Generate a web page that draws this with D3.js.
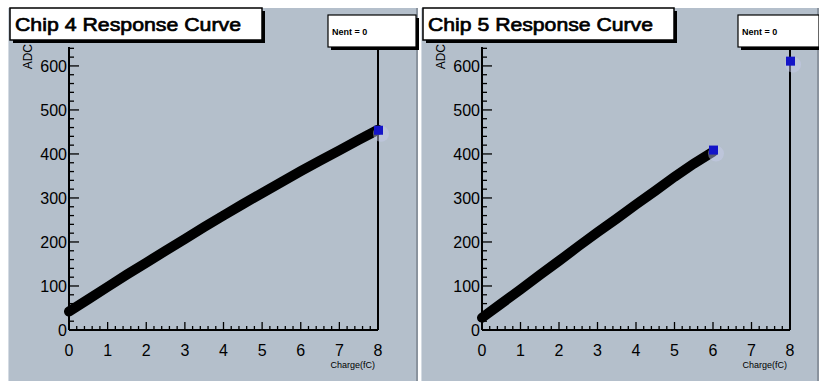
<!DOCTYPE html>
<html>
<head>
<meta charset="utf-8">
<script src="https://cdn.jsdelivr.net/npm/d3@7"></script>
<style>
  body { margin: 0; background: #fff; }
  svg { display: block; font-family: "Liberation Sans", Arial, sans-serif; }
</style>
</head>
<body>
<svg id="chart" width="819" height="383"></svg>
<script>
// data
const titles = ["Chip 4 Response Curve", "Chip 5 Response Curve"];
const statsText = "Nent = 0";
const xTicks = [0, 1, 2, 3, 4, 5, 6, 7, 8];
const yTicks = [0, 100, 200, 300, 400, 500, 600];
const chip4Charge = [0, 0.5, 1, 1.5, 2, 2.5, 3, 3.5, 4, 4.5, 5, 5.5, 6, 6.5, 7, 7.5, 8];
const chip4Adc = [42, 70, 98, 126, 153, 180, 207, 234, 260, 286, 311, 336, 361, 385, 408, 432, 455];
const chip5Charge = [0, 0.5, 1, 1.5, 2, 2.5, 3, 3.5, 4, 4.5, 5, 5.5, 6];
const chip5Adc = [28, 60, 92, 125, 157, 190, 222, 253, 285, 316, 348, 378, 405];
const chip4Last = [[8, 455]];
const chip5Last = [[6, 410], [8, 612]];

const bg = "#b4bfcb";
const svg = d3.select("#chart");

const pads = [
  { left: 8, right: 418, fx0: 69, fx1: 378, tx0: 10, tx1: 262, sx0: 328, sx1: 416,
    xs: chip4Charge, ys: chip4Adc, last: chip4Last, title: titles[0] },
  { left: 421, right: 819, fx0: 482, fx1: 790, tx0: 423, tx1: 674, sx0: 738, sx1: 819,
    xs: chip5Charge, ys: chip5Adc, last: chip5Last, title: titles[1] }
];

const fy0 = 330, fy1 = 47;

pads.forEach(p => {
  const g = svg.append("g");
  g.append("rect").attr("x", p.left).attr("y", 8)
    .attr("width", p.right - p.left).attr("height", 373).attr("fill", bg);
  // pad bevel
  g.append("line").attr("x1", p.right - 1).attr("x2", p.right - 1).attr("y1", 8).attr("y2", 381)
    .attr("stroke", "#8a939e").attr("stroke-width", 2);
  g.append("line").attr("x1", p.left + 0.5).attr("x2", p.left + 0.5).attr("y1", 8).attr("y2", 381)
    .attr("stroke", "#d4dbe3").attr("stroke-width", 1);

  const x = d3.scaleLinear().domain([0, 8]).range([p.fx0, p.fx1]);
  const y = d3.scaleLinear().domain([0, 643]).range([fy0, fy1]);

  // frame right edge
  g.append("line").attr("x1", p.fx1).attr("x2", p.fx1).attr("y1", fy1).attr("y2", fy0)
    .attr("stroke", "#000").attr("stroke-width", 2);

  // x axis: ticks point up into the frame
  const xAxis = g.append("g").attr("transform", `translate(0,${fy0})`);
  xAxis.append("line").attr("x1", p.fx0).attr("x2", p.fx1).attr("stroke", "#000").attr("stroke-width", 2);
  const xMinor = d3.range(0, 8.001, 0.2);
  xAxis.selectAll(".xm").data(xMinor).join("line")
    .attr("x1", d => x(d)).attr("x2", d => x(d)).attr("y1", 0)
    .attr("y2", d => Math.abs(d - Math.round(d)) < 1e-6 ? -8 : (Math.abs(d * 2 - Math.round(d * 2)) < 1e-6 ? -6 : -4))
    .attr("stroke", "#000").attr("stroke-width", 1.3);
  xAxis.selectAll(".xl").data(xTicks).join("text")
    .attr("x", d => x(d)).attr("y", 26).attr("text-anchor", "middle")
    .attr("font-size", 16).attr("fill", "#000").text(d => d);
  g.append("text").attr("x", p.fx1 - 3).attr("y", 368).attr("text-anchor", "end")
    .attr("font-size", 9).attr("fill", "#000").text("Charge(fC)");

  // y axis: ticks point right into the frame
  const yAxis = g.append("g").attr("transform", `translate(${p.fx0},0)`);
  yAxis.append("line").attr("y1", fy1).attr("y2", fy0).attr("stroke", "#000").attr("stroke-width", 2);
  const yMinor = d3.range(0, 643, 20);
  yAxis.selectAll(".ym").data(yMinor).join("line")
    .attr("y1", d => y(d)).attr("y2", d => y(d)).attr("x1", 0)
    .attr("x2", d => d % 100 === 0 ? 10 : 5)
    .attr("stroke", "#000").attr("stroke-width", 1.3);
  yAxis.selectAll(".yl").data(yTicks).join("text")
    .attr("x", -2).attr("y", d => y(d) + 6).attr("text-anchor", "end")
    .attr("font-size", 16).attr("fill", "#000").text(d => d);
  g.append("text")
    .attr("transform", `translate(${p.left + 24},${fy1 - 3}) rotate(-90)`)
    .attr("text-anchor", "end").attr("font-size", 12).attr("fill", "#000").text("ADC");

  // data band
  const pts = p.xs.map((v, i) => [v, p.ys[i]]);
  g.append("path").datum(pts)
    .attr("d", d3.line().x(d => x(d[0])).y(d => y(d[1])))
    .attr("fill", "none").attr("stroke", "#000").attr("stroke-width", 10)
    .attr("stroke-linecap", "round");

  // last points in blue
  g.selectAll(".halo").data(p.last).join("circle")
    .attr("cx", d => x(d[0]) + 3).attr("cy", d => y(d[1]) + 4).attr("r", 8)
    .attr("fill", "#c8cdee").attr("opacity", 0.45);
  g.selectAll(".blue").data(p.last).join("rect")
    .attr("x", d => x(d[0]) - 4).attr("y", d => y(d[1]) - 4)
    .attr("width", 9).attr("height", 9).attr("fill", "#1414c8");

  // title box with shadow
  g.append("rect").attr("x", p.tx0 + 3).attr("y", 11).attr("width", p.tx1 - p.tx0).attr("height", 32).attr("fill", "#000");
  g.append("rect").attr("x", p.tx0).attr("y", 8).attr("width", p.tx1 - p.tx0).attr("height", 32)
    .attr("fill", "#fff").attr("stroke", "#000").attr("stroke-width", 1.5);
  g.append("text").attr("x", p.tx0 + 5).attr("y", 31)
    .attr("font-size", 19).attr("fill", "#000")
    .attr("stroke", "#000").attr("stroke-width", 0.7)
    .attr("textLength", p.tx1 - p.tx0 - 26).attr("lengthAdjust", "spacingAndGlyphs")
    .text(p.title);

  // stats box
  g.append("rect").attr("x", p.sx0 + 3).attr("y", 18).attr("width", p.sx1 - p.sx0).attr("height", 32).attr("fill", "#000");
  g.append("rect").attr("x", p.sx0).attr("y", 15).attr("width", p.sx1 - p.sx0).attr("height", 32)
    .attr("fill", "#fff").attr("stroke", "#000").attr("stroke-width", 1.2);
  g.append("text").attr("x", p.sx0 + 4).attr("y", 35)
    .attr("font-size", 9).attr("font-weight", "bold").attr("fill", "#000").text(statsText);
});
</script>
</body>
</html>
